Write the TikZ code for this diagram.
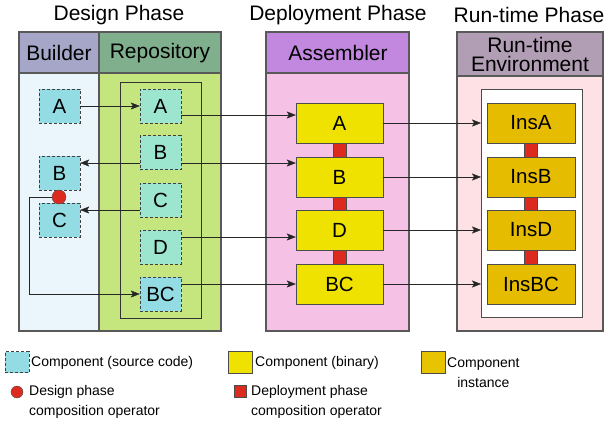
\documentclass[tikz,border=0pt]{standalone}
\usepackage{fontspec}
\setmainfont{Liberation Sans}
\usetikzlibrary{calc,arrows.meta}
\definecolor{bldhead}{HTML}{A5A6C8}
\definecolor{bldbody}{HTML}{EBF5FC}
\definecolor{repohead}{HTML}{7FAF8C}
\definecolor{repobody}{HTML}{C5E67F}
\definecolor{asmhead}{HTML}{C287DF}
\definecolor{asmbody}{HTML}{F5C1E5}
\definecolor{envhead}{HTML}{B19DB4}
\definecolor{envbody}{HTML}{FDE1E4}
\definecolor{srccyan}{HTML}{93DCE4}
\definecolor{srcmint}{HTML}{9CE5CF}
\definecolor{binyellow}{HTML}{EFE200}
\definecolor{insgold}{HTML}{E6BC00}
\definecolor{opred}{HTML}{DD2A1E}
\tikzset{
	phase/.style={font=\fontsize{21}{21}\selectfont},
	colhead/.style={font=\fontsize{21}{21}\selectfont},
	srccomp/.style={draw=black!75, dash pattern=on 3pt off 2pt, fill=srccyan,
		minimum width=41pt, minimum height=34pt, inner sep=0pt, font=\fontsize{20.5}{20.5}\selectfont},
	bincomp/.style={draw=black!70, fill=binyellow, minimum width=87pt, minimum height=40pt,
		inner sep=0pt, font=\fontsize{20.5}{20.5}\selectfont},
	inscomp/.style={draw=black!70, fill=insgold, minimum width=88pt, minimum height=40pt,
		inner sep=0pt, font=\fontsize{20.5}{20.5}\selectfont},
	desop/.style={circle, draw=black!70, fill=opred, minimum size=14pt, inner sep=0pt},
	depop/.style={draw=black!70, fill=opred},
	arr/.style={-{Stealth[length=9pt, width=7pt, inset=2pt]}, black!85},
	legtext/.style={font=\fontsize{14}{20}\selectfont, inner sep=0pt, anchor=west, align=left},
}
\begin{document}
\begin{tikzpicture}[x=1pt, y=-1pt]
\useasboundingbox (0,0) rectangle (608,424);

% columns
\filldraw[fill=bldbody, draw=black!65, line width=1.2pt] (19,73) rectangle (99,331);
\filldraw[fill=repobody, draw=black!65, line width=1.2pt] (99,73) rectangle (221,331);
\filldraw[fill=bldhead, draw=black!65, line width=1.2pt] (19,32) rectangle (99,73);
\filldraw[fill=repohead, draw=black!65, line width=1.2pt] (99,32) rectangle (221,73);
\filldraw[fill=asmbody, draw=black!65, line width=1.2pt] (266,73) rectangle (409,331);
\filldraw[fill=asmhead, draw=black!65, line width=1.2pt] (266,32) rectangle (409,73);
\filldraw[fill=envbody, draw=black!65, line width=1.2pt] (457,76) rectangle (603,331);
\filldraw[fill=envhead, draw=black!65, line width=1.2pt] (457,32) rectangle (603,76);

\node[phase] (tdes) at (119,15) {Design Phase};
\node[phase] (tdep) at (338,15) {Deployment Phase};
\node[phase] (trun) at (529,15) {Run-time Phase};
\node[colhead] (hbld) at (59,53) {Builder};
\node[colhead] (hrepo) at (160,53) {Repository};
\node[colhead] (hasm) at (338,53) {Assembler};
\node[colhead, anchor=base, inner sep=0pt] (henv1) at (530,52.5) {Run-time};
\node[colhead, anchor=base, inner sep=0pt] (henv2) at (530,71) {Environment};

% inner frames
\draw[black!80] (120,82) rectangle (201,318);
\filldraw[fill=white, draw=black!70] (481,89) rectangle (582,317);
\coordinate (envin) at (481,89);

% builder
\node[srccomp] (bA) at (59.5,106) {A};
\node[srccomp] (bB) at (59.5,173) {B};
\node[srccomp] (bC) at (59.5,220) {C};

% repository
\node[srccomp, fill=srcmint] (rA) at (160.5,106) {A};
\node[srccomp, fill=srcmint] (rB) at (160.5,152.5) {B};
\node[srccomp, fill=srcmint] (rC) at (160.5,200) {C};
\node[srccomp, fill=srcmint] (rD) at (160.5,247) {D};
\node[srccomp] (rBC) at (160.5,294) {BC};

% assembler
\node[bincomp] (asmA) at (339.5,123) {A};
\node[bincomp] (asmB) at (339.5,177) {B};
\node[bincomp] (asmD) at (339.5,230) {D};
\node[bincomp] (asmBC) at (339.5,284) {BC};

% run-time
\node[inscomp] (insA) at (531,123) {InsA};
\node[inscomp] (insB) at (531,177) {InsB};
\node[inscomp] (insD) at (531,230) {InsD};
\node[inscomp] (insBC) at (531,284) {InsBC};

% composition operators
\draw[depop] ([xshift=-6.5pt]asmA.south) rectangle ([xshift=6.5pt]asmB.north);
\draw[depop] ([xshift=-6.5pt]asmB.south) rectangle ([xshift=6.5pt]asmD.north);
\draw[depop] ([xshift=-6.5pt]asmD.south) rectangle ([xshift=6.5pt]asmBC.north);
\draw[depop] ([xshift=-6.5pt]insA.south) rectangle ([xshift=6.5pt]insB.north);
\draw[depop] ([xshift=-6.5pt]insB.south) rectangle ([xshift=6.5pt]insD.north);
\draw[depop] ([xshift=-6.5pt]insD.south) rectangle ([xshift=6.5pt]insBC.north);

% connectors
\draw[arr] (bA) -- (rA);
\draw[arr] ([yshift=-10.5pt]rB.west) -- ([yshift=-10.5pt]rB.west -| bB.east);
\draw[arr] ([yshift=-10pt]rC.west) -- ([yshift=-10pt]rC.west -| bC.east);
\draw[arr] ([yshift=-9pt]rA.east) -- ([yshift=-9pt]rA.east -| asmA.west);
\draw[arr] ([yshift=-10.5pt]rB.east) -- ([yshift=-10.5pt]rB.east -| asmB.west);
\draw[arr] ([yshift=10pt]rD.east) -- ([yshift=10pt]rD.east -| asmD.west);
\draw[arr] ([yshift=10pt]rBC.east) -- ([yshift=10pt]rBC.east -| asmBC.west);
\draw[arr] (asmA.east) -- (asmA.east -| envin);
\draw[arr] (asmB.east) -- (asmB.east -| envin);
\draw[arr] (asmD.east) -- (asmD.east -| envin);
\draw[arr] (asmBC.east) -- (asmBC.east -| envin);

\node[desop] (dot) at (59,197) {};
\draw[arr] (dot.west) -- ++(-23,0) |- (rBC.west);

% legend
\node[srccomp, minimum width=24pt, minimum height=21pt] (lsrc) at (17,362) {};
\node[legtext] (lsrct) at (31,363) {Component (source code)};
\node[desop, minimum size=12pt] (ldes) at (17,392) {};
\node[legtext] (ldest) at (29,401.5) {Design phase\\composition operator};
\node[bincomp, minimum width=24pt, minimum height=22pt] (lbin) at (240,362) {};
\node[legtext] (lbint) at (255,363) {Component (binary)};
\node[depop, minimum size=12.5pt, inner sep=0pt] (ldep) at (240,391) {};
\node[legtext] (ldept) at (251,401.5) {Deployment phase\\composition operator};
\node[inscomp, fill=insgold!90!yellow, minimum width=24pt, minimum height=22pt] (lins) at (433,362) {};
\node[legtext, align=center] (linst) at (447,373) {Component\\instance};
\end{tikzpicture}
\end{document}
